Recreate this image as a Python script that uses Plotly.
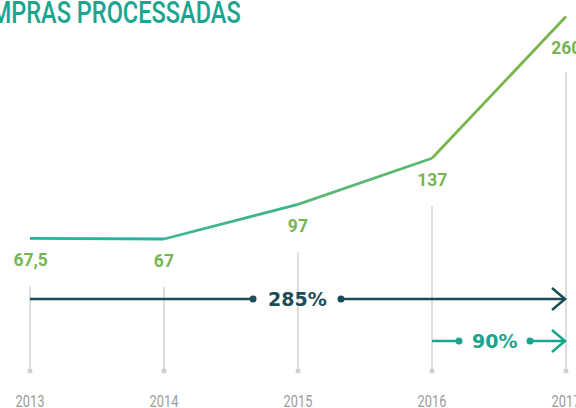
import plotly.graph_objects as go

# ---- data ----
years = [2013, 2014, 2015, 2016, 2017]
values = [67.5, 67, 97, 137, 260]
value_labels = ["67,5", "67", "97", "137", "260"]
year_labels = ["2013", "2014", "2015", "2016", "2017"]
growth_labels = ["285%", "90%"]
growth_from = [2013, 2016]
growth_to = [2017, 2017]
title_text = "COMPRAS PROCESSADAS"

# ---- layout geometry (pixels) ----
W, H = 576, 408
X_PX0, X_STEP = 30, 134            # pixel of first year, pixels per year
Y_REF_VAL, Y_REF_PX, PX_PER_UNIT = 67, 239, 1.153

def val_at_px(py):
    return Y_REF_VAL + (Y_REF_PX - py) / PX_PER_UNIT

def paper_y(py):
    return 1 - py / H

x_min = years[0] - X_PX0 / X_STEP
x_max = x_min + W / X_STEP

seg_colors = ["#22b59f", "#3fb78b", "#5bb874", "#78b64d"]
label_green = "#76b552"
grid_gray = "#d2d2d2"
dark_arrow = "#1b4d59"
teal_arrow = "#1ba48c"
arrow_colors = [dark_arrow, teal_arrow]
arrow_px_y = [299, 341]
gap_half = [44, 35.5]
label_nudge_px = [-1, -4.5]
FONT = "Roboto"

fig = go.Figure()

# vertical guide lines with bottom dots
bottom_px = 370
for i, (yr, v) in enumerate(zip(years, values)):
    off = 55 if i == len(years) - 1 else 48
    top_val = v - off / PX_PER_UNIT
    fig.add_trace(go.Scatter(
        x=[yr, yr], y=[top_val, val_at_px(bottom_px)], mode="lines",
        line=dict(color=grid_gray, width=1.5), hoverinfo="skip", showlegend=False))
fig.add_trace(go.Scatter(
    x=years, y=[val_at_px(bottom_px + 1)] * len(years), mode="markers",
    marker=dict(color="#cfcfcf", size=5), hoverinfo="skip", showlegend=False))

# main line, segment colored (gradient look)
for i in range(len(years) - 1):
    fig.add_trace(go.Scatter(
        x=years[i:i + 2], y=values[i:i + 2], mode="lines",
        line=dict(color=seg_colors[i], width=2.8), hoverinfo="skip", showlegend=False))

# value labels
for i, (yr, v, lab) in enumerate(zip(years, values, value_labels)):
    shift = -31 if i == len(years) - 1 else -21
    fig.add_annotation(x=yr, y=v, text=lab, showarrow=False, yshift=shift,
                       xanchor="center", yanchor="middle",
                       font=dict(family="Roboto", size=19, color=label_green, weight="bold"))

# growth arrows
shapes = []
for lab, x0, x1, col, py, gh, nud in zip(growth_labels, growth_from, growth_to,
                                           arrow_colors, arrow_px_y, gap_half, label_nudge_px):
    yv = val_at_px(py)
    xc = (x0 + x1) / 2 + nud / X_STEP
    d = gh / X_STEP
    tip = x1 - 1 / X_STEP
    fig.add_trace(go.Scatter(x=[x0, xc - d], y=[yv, yv], mode="lines",
                             line=dict(color=col, width=2.5), hoverinfo="skip", showlegend=False))
    fig.add_trace(go.Scatter(x=[xc + d, tip], y=[yv, yv], mode="lines",
                             line=dict(color=col, width=2.5), hoverinfo="skip", showlegend=False))
    fig.add_trace(go.Scatter(x=[xc - d, xc + d], y=[yv, yv], mode="markers",
                             marker=dict(color=col, size=7), hoverinfo="skip", showlegend=False))
    shapes.append(dict(type="path", xref="x", yref="y", xsizemode="pixel", ysizemode="pixel",
                       xanchor=tip, yanchor=yv, path="M -13,11 L 0,0 L -13,-11",
                       line=dict(color=col, width=2.5)))
    fig.add_annotation(x=xc, y=yv, text=lab, showarrow=False, xanchor="center", yanchor="middle",
                       font=dict(family="DejaVu Sans", size=19, color=col, weight="bold"))

# title (cropped at left)
fig.add_annotation(xref="paper", yref="paper", x=243 / W, y=paper_y(12), text=title_text,
                   showarrow=False, xanchor="right", yanchor="middle",
                   font=dict(family=FONT, size=31, color="#1ba58e", weight=500))

# year labels
for yr, lab in zip(years, year_labels):
    fig.add_annotation(x=yr, xref="x", yref="paper", y=paper_y(401), text=lab, showarrow=False,
                       xanchor="center", yanchor="middle",
                       font=dict(family=FONT, size=16, color="#9b9b9b"))

fig.update_layout(
    width=W, height=H, margin=dict(l=0, r=0, t=0, b=0),
    paper_bgcolor="white", plot_bgcolor="white", shapes=shapes,
    xaxis=dict(range=[x_min, x_max], visible=False, fixedrange=True),
    yaxis=dict(range=[val_at_px(H), val_at_px(0)], visible=False, fixedrange=True),
    showlegend=False,
)

post = """
document.body.style.margin='0';document.body.style.overflow='hidden';
function condense(){
  document.querySelectorAll('.annotation-text').forEach(function(t){
    var s = t.textContent;
    if (s === 'COMPRAS PROCESSADAS') {
      t.style.transformBox='fill-box'; t.style.transformOrigin='right center';
      t.style.transform='scaleX(0.76)';
    } else if (/^20\\d\\d$/.test(s)) {
      t.style.transformBox='fill-box'; t.style.transformOrigin='center center';
      t.style.transform='scaleX(0.8)';
    } else if (/^[0-9,]+$/.test(s)) {
      t.style.transformBox='fill-box'; t.style.transformOrigin='center center';
      t.style.transform='scaleX(0.92)';
    }
  });
}
condense();
var gd = document.getElementById('{plot_id}');
if (gd && gd.on) { gd.on('plotly_afterplot', condense); }
setTimeout(condense, 50);
"""

fig.write_html("out.html", config={"displayModeBar": False}, post_script=post)
